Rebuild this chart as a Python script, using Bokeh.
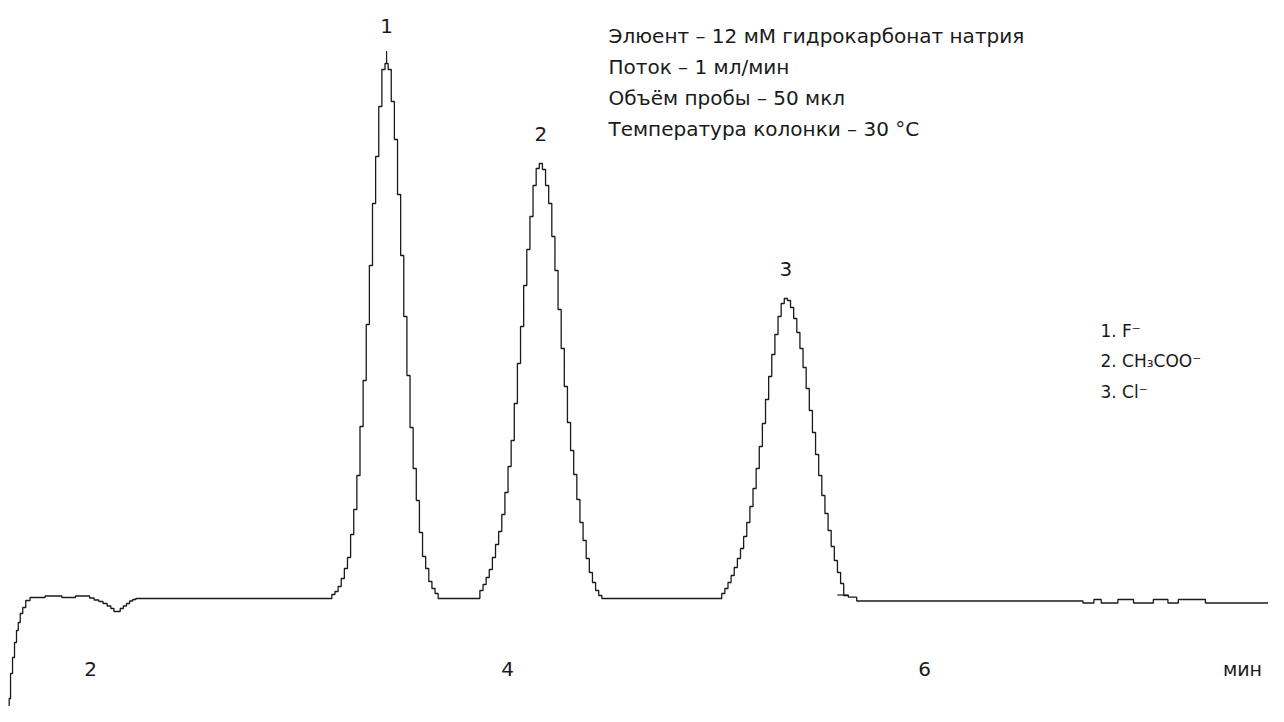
from bokeh.plotting import figure
from bokeh.models import Range1d, ColumnDataSource
from bokeh.core.properties import value
from bokeh.embed import file_html
from bokeh.resources import INLINE

# ---------------- data (time in min, signal in arbitrary units) ----------------
start_t = [1.608, 1.612, 1.621, 1.631, 1.640, 1.650, 1.657, 1.669, 1.681, 1.698,
           1.722, 1.775, 1.790, 1.855, 1.870, 1.918, 1.938, 1.986, 2.005, 2.030,
           2.050, 2.070, 2.090, 2.105, 2.120, 2.135, 2.150, 2.165, 2.180, 2.195,
           2.210, 2.225, 3.150]
start_s = [-14.0, -10.0, -7.5, -5.9, -4.4, -3.2, -2.4, -1.5, -0.9, -0.2,
           0.1, 0.1, 0.25, 0.25, 0.1, 0.1, 0.25, 0.25, 0.05, -0.15,
           -0.3, -0.5, -0.75, -1.0, -1.3, -1.3, -1.0, -0.75, -0.5, -0.25,
           -0.1, 0.0, 0.0]

peak1_t = [3.165, 3.180, 3.195, 3.210, 3.225, 3.240, 3.255, 3.270, 3.285, 3.300,
           3.315, 3.330, 3.345, 3.360, 3.375, 3.390, 3.405, 3.420, 3.435, 3.450,
           3.465, 3.480, 3.495, 3.510, 3.525, 3.540, 3.555, 3.570, 3.585, 3.600,
           3.615, 3.630, 3.645, 3.660, 3.675, 3.860]
peak1_s = [0.4, 0.7, 1.2, 2.0, 3.0, 4.1, 6.4, 8.9, 12.3, 17.2,
           21.8, 27.4, 33.3, 39.5, 44.2, 49.2, 52.9, 53.5, 52.9, 49.7,
           45.9, 40.4, 34.3, 28.2, 22.3, 17.1, 13.0, 9.8, 6.6, 4.2,
           3.0, 1.7, 1.0, 0.5, 0.0, 0.0]

peak2_t = [3.875, 3.890, 3.905, 3.920, 3.935, 3.950, 3.965, 3.980, 3.995, 4.010,
           4.025, 4.040, 4.055, 4.070, 4.085, 4.100, 4.115, 4.130, 4.145, 4.160,
           4.175, 4.190, 4.205, 4.220, 4.235, 4.250, 4.265, 4.280, 4.295, 4.310,
           4.325, 4.340, 4.355, 4.370, 4.385, 4.400, 4.415, 4.430, 4.445, 4.460,
           5.020]
peak2_s = [0.8, 1.4, 2.1, 2.9, 4.1, 5.4, 6.7, 8.4, 10.6, 13.2,
           15.8, 19.5, 23.5, 27.2, 31.3, 34.9, 38.2, 41.3, 43.0, 43.5,
           42.9, 41.3, 39.5, 36.2, 32.8, 28.9, 25.0, 21.2, 17.6, 14.8,
           12.4, 9.9, 7.6, 5.8, 4.0, 2.6, 1.6, 0.8, 0.3, 0.0,
           0.0]

peak3_t = [5.035, 5.050, 5.065, 5.080, 5.095, 5.110, 5.125, 5.140, 5.155, 5.170,
           5.185, 5.200, 5.215, 5.230, 5.245, 5.260, 5.275, 5.290, 5.305, 5.320,
           5.335, 5.350, 5.365, 5.380, 5.395, 5.410, 5.425, 5.440, 5.455, 5.470,
           5.485, 5.500, 5.515, 5.530, 5.545, 5.560, 5.575, 5.590, 5.605, 5.620,
           5.650, 5.700]
peak3_s = [0.5, 1.0, 1.6, 2.3, 3.1, 4.0, 5.0, 6.2, 7.6, 9.2,
           11.0, 13.0, 15.2, 17.5, 19.9, 22.2, 24.4, 26.4, 28.2, 29.5,
           30.0, 29.8, 29.1, 28.0, 26.6, 25.0, 23.1, 21.0, 18.8, 16.6,
           14.4, 12.3, 10.3, 8.5, 6.8, 5.2, 3.8, 2.6, 1.5, 0.3,
           0.13, -0.25]

tail_t = [6.750, 6.770, 6.805, 6.820, 6.840, 6.855, 6.920, 6.935, 6.995, 7.010,
          7.090, 7.105, 7.160, 7.175, 7.210, 7.225, 7.340, 7.355, 7.730]
tail_s = [-0.25, -0.45, -0.45, -0.1, -0.1, -0.45, -0.45, -0.1, -0.1, -0.45,
          -0.45, -0.1, -0.1, -0.45, -0.45, -0.1, -0.1, -0.45, -0.45]

peak_names = ["1", "2", "3"]
peak_times = [3.420, 4.160, 5.335]
peak_heights = [53.5, 43.5, 30.0]
peak3_end_time = 5.609
peak3_end_level = 0.35

x_ticks = [2, 4, 6]
x_tick_labels = ["2", "4", "6"]
x_unit = "мин"

conditions = [
    "Элюент – 12 мМ гидрокарбонат натрия",
    "Поток – 1 мл/мин",
    "Объём пробы – 50 мкл",
    "Температура колонки – 30 °C",
]
legend_lines = ["1. F\u207b", "2. CH\u2083COO\u207b", "3. Cl\u207b"]

# ---------------- figure ----------------
X0, X1 = 1.5683, 7.6499
Y0, Y1 = -10.8, 59.8
INK = "#1a1a1a"
FONT = "DejaVu Sans"

p = figure(width=1268, height=706, x_range=Range1d(X0, X1), y_range=Range1d(Y0, Y1),
           output_backend="svg", toolbar_location=None, min_border=0,
           x_axis_type=None, y_axis_type=None)
p.outline_line_color = None
p.background_fill_color = "white"
p.border_fill_color = "white"
for g in p.grid:
    g.visible = False

trace_t = start_t + peak1_t + peak2_t + peak3_t + tail_t
trace_s = start_s + peak1_s + peak2_s + peak3_s + tail_s
src = ColumnDataSource(dict(t=trace_t, s=trace_s))
p.step(x="t", y="s", source=src, mode="center", line_color=INK, line_width=1.3)

# peak markers
p.segment(x0=[peak_times[0]], y0=[peak_heights[0]], x1=[peak_times[0]],
          y1=[peak_heights[0] + 1.25], line_color=INK, line_width=1.2)
p.segment(x0=[peak3_end_time - 0.027], y0=[peak3_end_level],
          x1=[peak3_end_time + 0.027], y1=[peak3_end_level], line_color=INK, line_width=1.2)

# peak numbers
gaps = [3.8, 3.0, 3.0]
p.text(x=peak_times, y=[h + g for h, g in zip(peak_heights, gaps)], text=peak_names,
       text_font=value(FONT), text_font_size="20px", text_color=INK,
       text_align="center", text_baseline="middle")

# x labels inside the plot
p.text(x=x_ticks, y=[-7.0] * len(x_ticks), text=x_tick_labels,
       text_font=value(FONT), text_font_size="20px", text_color=INK,
       text_align="center", text_baseline="middle")
p.text(x=[7.525], y=[-7.0], text=[x_unit],
       text_font=value(FONT), text_font_size="19px", text_color=INK,
       text_align="center", text_baseline="middle")

# conditions block
cy = [56.3 - 3.1 * i for i in range(len(conditions))]
p.text(x=[4.4844] * len(conditions), y=cy, text=conditions,
       text_font=value(FONT), text_font_size="20px", text_color=INK,
       text_align="left", text_baseline="middle")

# peak legend
ly = [26.8 - 3.07 * i for i in range(len(legend_lines))]
p.text(x=[6.844] * len(legend_lines), y=ly, text=legend_lines,
       text_font=value(FONT), text_font_size="17px", text_color=INK,
       text_align="left", text_baseline="middle")

open("out.html", "w").write(file_html(p, INLINE))
